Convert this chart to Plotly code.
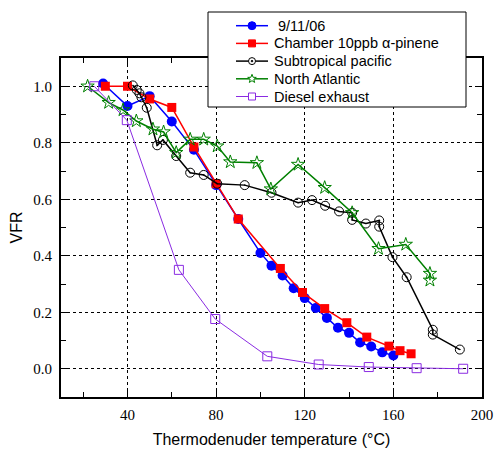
import math
import plotly.graph_objects as go

# 9/11/06
blue_x = [29, 40, 50, 60, 70, 80, 90, 100, 105, 110, 115, 120, 125, 130, 135, 140, 145, 150, 155, 160]
blue_y = [1.01, 0.93, 0.965, 0.875, 0.775, 0.65, 0.53, 0.41, 0.365, 0.33, 0.285, 0.25, 0.215, 0.18,
          0.145, 0.127, 0.093, 0.079, 0.058, 0.047]

# Chamber 10ppb a-pinene
red_x = [30, 40, 50, 60, 70, 80, 90, 109, 119, 129, 139, 148, 158, 163, 168]
red_y = [1.0, 1.0, 0.955, 0.925, 0.785, 0.655, 0.53, 0.355, 0.27, 0.213, 0.163, 0.112, 0.08, 0.064, 0.053]

# Subtropical pacific
black_x = [42.4, 44.2, 45.4, 46.3, 48.7, 53.4, 56.0, 62.0, 68.3, 74.4, 80.5, 92.9, 105, 117, 123.3,
           129.2, 135.5, 141.4, 141.4, 147.6, 153.6, 153.6, 159.6, 166, 177.8, 177.8, 190]
black_y = [1.003, 0.987, 0.975, 0.961, 0.924, 0.791, 0.81, 0.753, 0.694, 0.686, 0.655, 0.65, 0.623,
           0.588, 0.597, 0.577, 0.557, 0.552, 0.527, 0.514, 0.525, 0.503, 0.395, 0.324, 0.138, 0.121, 0.068]

# North Atlantic
green_x = [22, 31.5, 38, 44, 51.5, 56.3, 62, 68.3, 74.4, 80.5, 86.4, 98.4, 104.7, 117, 129, 141.4,
           153.3, 165.6, 176.5, 176.5]
green_y = [1.0, 0.942, 0.916, 0.877, 0.848, 0.838, 0.765, 0.812, 0.812, 0.788, 0.732, 0.729, 0.636,
           0.723, 0.641, 0.552, 0.425, 0.44, 0.337, 0.313]

# Diesel exhaust
purple_x = [25, 39.7, 63.2, 79.6, 103.1, 126.3, 148.9, 170.5, 191.5]
purple_y = [1.0, 0.88, 0.35, 0.176, 0.044, 0.015, 0.006, 0.002, 0.0]

series_names = ["9/11/06", "Chamber 10ppb α-pinene", "Subtropical pacific", "North Atlantic", "Diesel exhaust"]

x_ticks = [40, 80, 120, 160, 200]
y_ticks = [0.0, 0.2, 0.4, 0.6, 0.8, 1.0]
y_ticklabels = ["0.0", "0.2", "0.4", "0.6", "0.8", "1.0"]

BLUE, RED, BLACK, GREEN, PURPLE = "#0000FF", "#FF0000", "#000000", "#008000", "#8A2BE2"

fig = go.Figure()
fig.add_trace(go.Scatter(x=blue_x, y=blue_y, mode="lines+markers", name=series_names[0],
                         line=dict(color=BLUE, width=1.5),
                         marker=dict(symbol="circle", size=10, color=BLUE)))
fig.add_trace(go.Scatter(x=red_x, y=red_y, mode="lines+markers", name=series_names[1],
                         line=dict(color=RED, width=1.5),
                         marker=dict(symbol="square", size=9, color=RED)))
fig.add_trace(go.Scatter(x=black_x, y=black_y, mode="lines+markers", name=series_names[2],
                         line=dict(color=BLACK, width=1.5),
                         marker=dict(symbol="circle-open-dot", size=9, color=BLACK, line=dict(width=1))))
fig.add_trace(go.Scatter(x=green_x, y=green_y, mode="lines+markers", name=series_names[3],
                         line=dict(color=GREEN, width=1.5),
                         marker=dict(symbol="star-open", size=10, color=GREEN, line=dict(width=1))))
fig.add_trace(go.Scatter(x=purple_x, y=purple_y, mode="lines+markers", name=series_names[4],
                         line=dict(color=PURPLE, width=1),
                         marker=dict(symbol="square-open", size=9, color=PURPLE, line=dict(width=1))))

tick_font = dict(family="Liberation Serif, Times New Roman, serif", size=15, color="black")
title_font = dict(family="Liberation Sans", size=16, color="black")

fig.update_xaxes(range=[10, 200], tickvals=x_ticks, ticks="inside", ticklen=6, tickcolor="black",
                 showline=True, linecolor="black", linewidth=2, mirror="allticks",
                 showgrid=True, gridcolor="black", griddash="3px,3px", gridwidth=1,
                 zeroline=False, tickfont=tick_font, automargin=False, ticklabelstandoff=3,
                 minor=dict(ticks="inside", dtick=20, tick0=0, ticklen=5, tickcolor="black", showgrid=False),
                 title=dict(text="Thermodenuder temperature (°C)", font=title_font, standoff=12))
fig.update_yaxes(range=[-0.1, 1.1], tickvals=y_ticks, ticktext=y_ticklabels, ticks="inside", ticklen=6,
                 tickcolor="black", showline=True, linecolor="black", linewidth=2, mirror="allticks",
                 showgrid=True, gridcolor="black", griddash="3px,3px", gridwidth=1,
                 zeroline=False, tickfont=tick_font, automargin=False, ticklabelstandoff=4,
                 minor=dict(ticks="inside", dtick=0.1, tick0=0, ticklen=5, tickcolor="black", showgrid=False),
                 title=dict(text="VFR", font=title_font, standoff=7))

# ---- custom legend (box, sample lines, glyphs, text) ----
W, H = 494, 450
ML, MR, MT, MB = 61, 12, 58, 53
PW, PH = W - ML - MR, H - MT - MB


def px2paper_x(px):
    return (px - ML) / PW


def px2paper_y(py):
    return (H - MB - py) / PH


shapes = []
annotations = []
shapes.append(dict(type="rect", xref="paper", yref="paper", layer="above",
                   x0=px2paper_x(208), x1=px2paper_x(466), y0=px2paper_y(107), y1=px2paper_y(12),
                   fillcolor="white", line=dict(color="black", width=1)))

leg_styles = [
    dict(color=BLUE, kind="circle", filled=True, r=4, lw=1.5),
    dict(color=RED, kind="square", filled=True, r=3.5, lw=1.5),
    dict(color=BLACK, kind="circle", filled=False, r=3.5, lw=1.5, dot=True),
    dict(color=GREEN, kind="star", filled=False, r=4.5, lw=1.5),
    dict(color=PURPLE, kind="square", filled=False, r=3.5, lw=1),
]


def star_path(R):
    pts = []
    for k in range(10):
        ang = math.radians(90 + 36 * k)
        rr = R if k % 2 == 0 else R * 0.42
        pts.append((rr * math.cos(ang), rr * math.sin(ang)))
    return "M " + " L ".join(f"{x:.2f},{y:.2f}" for x, y in pts) + " Z"


row0, row_step = 25.7, 17.7
for i, (name, st) in enumerate(zip(series_names, leg_styles)):
    py = row0 + i * row_step
    yp = px2paper_y(py)
    shapes.append(dict(type="line", xref="paper", yref="paper", layer="above",
                       x0=px2paper_x(236), x1=px2paper_x(268), y0=yp, y1=yp,
                       line=dict(color=st["color"], width=st["lw"])))
    xa = px2paper_x(252)
    fill = st["color"] if st["filled"] else "white"
    r = st["r"]
    common = dict(xref="paper", yref="paper", layer="above", xsizemode="pixel", ysizemode="pixel",
                  xanchor=xa, yanchor=yp, fillcolor=fill, line=dict(color=st["color"], width=1))
    if st["kind"] == "circle":
        shapes.append(dict(type="circle", x0=-r, x1=r, y0=-r, y1=r, **common))
        if st.get("dot"):
            c2 = dict(common)
            c2["fillcolor"] = st["color"]
            shapes.append(dict(type="circle", x0=-0.8, x1=0.8, y0=-0.8, y1=0.8, **c2))
    elif st["kind"] == "square":
        shapes.append(dict(type="rect", x0=-r, x1=r, y0=-r, y1=r, **common))
    else:
        shapes.append(dict(type="path", path=star_path(r), **common))
    annotations.append(dict(xref="paper", yref="paper", x=px2paper_x(272), y=yp,
                            xanchor="left", yanchor="middle", showarrow=False,
                            text=(" " + name) if i == 0 else name,
                            font=dict(family="Liberation Sans", size=14.5, color="black")))

fig.update_layout(
    width=W, height=H,
    margin=dict(l=ML, r=MR, t=MT, b=MB),
    plot_bgcolor="white", paper_bgcolor="white",
    showlegend=False,
    shapes=shapes,
    annotations=annotations,
)

fig.write_html("out.html", config={"displayModeBar": False},
               post_script="document.body.style.margin='0px';document.body.style.padding='0px';")
